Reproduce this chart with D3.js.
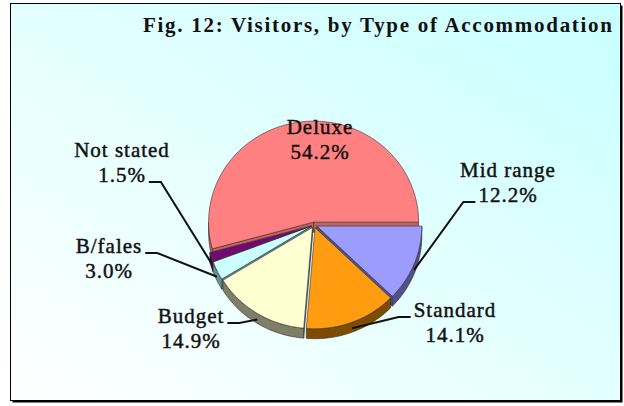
<!DOCTYPE html>
<html>
<head>
<meta charset="utf-8">
<script src="https://cdn.jsdelivr.net/npm/d3@7"></script>
<style>
  html, body { margin: 0; padding: 0; background: #fff; }
  svg { display: block; }
  text { font-family: "Liberation Serif", "Times New Roman", serif; fill: #111; }
</style>
</head>
<body>
<div id="chart"></div>
<script>
// Visitors, by type of accommodation (percent of all visitors)
// listed clockwise from 3 o'clock, as the slices are drawn
const categories = ["Mid range", "Standard", "Budget", "B/fales", "Not stated", "Deluxe"];
const shares     = [12.2, 14.1, 14.9, 3.0, 1.5, 54.2];
const title      = "Fig. 12: Visitors, by Type of Accommodation";

// top face and side wall colours
const topColours  = ["#9C9CFF", "#FF9C10", "#FFFFD2", "#CCFFFF", "#730A73", "#FF8080"];
const sideColours = ["#50508A", "#7E4C00", "#7F7F68", "#669494", "#3F003F", "#C46262"];

// where each label sits (centre x, first baseline) and the line the leader hangs off
const labelLayout = {
  "Deluxe":     {x: 320, y: 134, leader: null},
  "Mid range":  {x: 508, y: 177, leader: {line: 1, side: "left"}},
  "Standard":   {x: 455, y: 317, leader: {line: 0, side: "left"}},
  "Budget":     {x: 191, y: 323, leader: {line: 0, side: "right"}},
  "B/fales":    {x: 109, y: 253, leader: {line: 0, side: "right"}},
  "Not stated": {x: 122, y: 157, leader: {line: 1, side: "right"}}
};

const width = 624, height = 406;
// pie geometry: centre, radii of the tilted ellipse, wall depth, explode distance
const geo = {cx: 314, cy: 225, rx: 105, ry: 101, depth: 10, explode: 3};

const data = categories.map((c, i) => ({name: c, value: shares[i]}));
const topFill  = d3.scaleOrdinal(categories, topColours);
const sideFill = d3.scaleOrdinal(categories, sideColours);

const svg = d3.select("#chart").append("svg")
    .attr("width", width)
    .attr("height", height);

// background gradient, white at bottom left to pale cyan at top right
const grad = svg.append("defs").append("linearGradient")
    .attr("id", "bg")
    .attr("x1", 0).attr("y1", 1).attr("x2", 1).attr("y2", 0);
grad.append("stop").attr("offset", 0).attr("stop-color", "#FFFFFF");
grad.append("stop").attr("offset", 1).attr("stop-color", "#C8FFFF");

// frame with a drop shadow
svg.append("rect")
    .attr("x", 12.5).attr("y", 5.5).attr("width", 610).attr("height", 397)
    .attr("fill", "#000");
svg.append("rect")
    .attr("x", 10.5).attr("y", 3.5).attr("width", 610).attr("height", 397)
    .attr("fill", "url(#bg)")
    .attr("stroke", "#000")
    .attr("stroke-width", 1);

svg.append("text")
    .attr("x", 143).attr("y", 32)
    .attr("textLength", 469)
    .attr("lengthAdjust", "spacing")
    .style("font-size", "21px")
    .style("font-weight", "bold")
    .text(title);

const pie = d3.pie()
    .sort(null)
    .value(d => d.value)
    .startAngle(Math.PI / 2)
    .endAngle(Math.PI / 2 + 2 * Math.PI);
const slices = pie(data);

// project an angle on the tilted disc (0 = 12 o'clock, clockwise)
function pt(ang, off, z = 0) {
  return [geo.cx + off[0] + geo.rx * Math.sin(ang),
          geo.cy + off[1] - geo.ry * Math.cos(ang) + z];
}
function arcPts(a, b, off, z = 0) {
  const n = Math.max(2, Math.ceil(Math.abs(b - a) / 0.02));
  return d3.range(n + 1).map(i => pt(a + (b - a) * i / n, off, z));
}
const line = d3.line();

slices.forEach(s => {
  const mid = (s.startAngle + s.endAngle) / 2;
  s.mid = mid;
  s.off = [geo.explode * Math.sin(mid), -geo.explode * Math.cos(mid) * geo.ry / geo.rx];
  s.apex = [geo.cx + s.off[0], geo.cy + s.off[1]];
});

// collect the visible side walls of every slice
const walls = [];
slices.forEach(s => {
  const a = s.startAngle, b = s.endAngle, off = s.off, apex = s.apex;
  // outer wall: the front half of the rim
  [[Math.PI / 2, 3 * Math.PI / 2], [5 * Math.PI / 2, 7 * Math.PI / 2]].forEach(([lo, hi]) => {
    const t0 = Math.max(a, lo), t1 = Math.min(b, hi);
    if (t1 - t0 > 0.001) {
      const pts = arcPts(t0, t1, off, 0).concat(arcPts(t1, t0, off, geo.depth));
      walls.push({s, pts, key: d3.mean(pts, p => p[1])});
    }
  });
  // radial cut faces that turn toward the viewer
  const radial = ang => {
    const e = pt(ang, off);
    const pts = [apex, e, [e[0], e[1] + geo.depth], [apex[0], apex[1] + geo.depth]];
    walls.push({s, pts, key: d3.mean(pts, p => p[1]) - 2});
  };
  if (Math.sin(b) > 0.01) radial(b);
  if (Math.sin(a) < -0.01) radial(a);
});
walls.sort((p, q) => p.key - q.key);

svg.append("g")
  .selectAll("path")
  .data(walls)
  .join("path")
    .attr("d", d => line(d.pts) + "Z")
    .attr("fill", d => sideFill(d.s.data.name))
    .attr("stroke", "#2a2a2a")
    .attr("stroke-width", 0.6)
    .attr("stroke-linejoin", "round");

svg.append("g")
  .selectAll("path")
  .data(slices)
  .join("path")
    .attr("d", s => line([s.apex].concat(arcPts(s.startAngle, s.endAngle, s.off))) + "Z")
    .attr("fill", s => topFill(s.data.name))
    .attr("stroke", "#333")
    .attr("stroke-width", 0.6)
    .attr("stroke-linejoin", "round");

// labels
const labels = svg.append("g")
  .selectAll("text")
  .data(slices)
  .join("text")
    .attr("text-anchor", "middle")
    .style("font-size", "21px")
    .style("letter-spacing", "1px")
    .style("stroke", "#111")
    .style("stroke-width", 0.45);

labels.each(function(s) {
  const lay = labelLayout[s.data.name];
  const t = d3.select(this);
  [s.data.name, d3.format(".1f")(s.data.value) + "%"].forEach((str, i) => {
    t.append("tspan")
      .attr("x", lay.x)
      .attr("y", lay.y + i * 25)
      .text(str);
  });
});

// leader lines from the label edge to the rim of the slice
const leaders = [];
labels.each(function(s) {
  const lay = labelLayout[s.data.name];
  if (!lay.leader) return;
  const span = d3.select(this).selectAll("tspan").nodes()[lay.leader.line];
  const w = span.getComputedTextLength();
  const y = lay.y + lay.leader.line * 25;
  const dir = lay.leader.side === "right" ? 1 : -1;
  const x0 = lay.x + dir * (w / 2 + 3);
  const x1 = x0 + dir * 12;
  const end = pt(s.mid, s.off, geo.depth * 0.6);
  leaders.push([[x0, y], [x1, y], end]);
});

svg.append("g")
  .selectAll("path")
  .data(leaders)
  .join("path")
    .attr("d", d => line(d))
    .attr("fill", "none")
    .attr("stroke", "#111")
    .attr("stroke-width", 2);
</script>
</body>
</html>
